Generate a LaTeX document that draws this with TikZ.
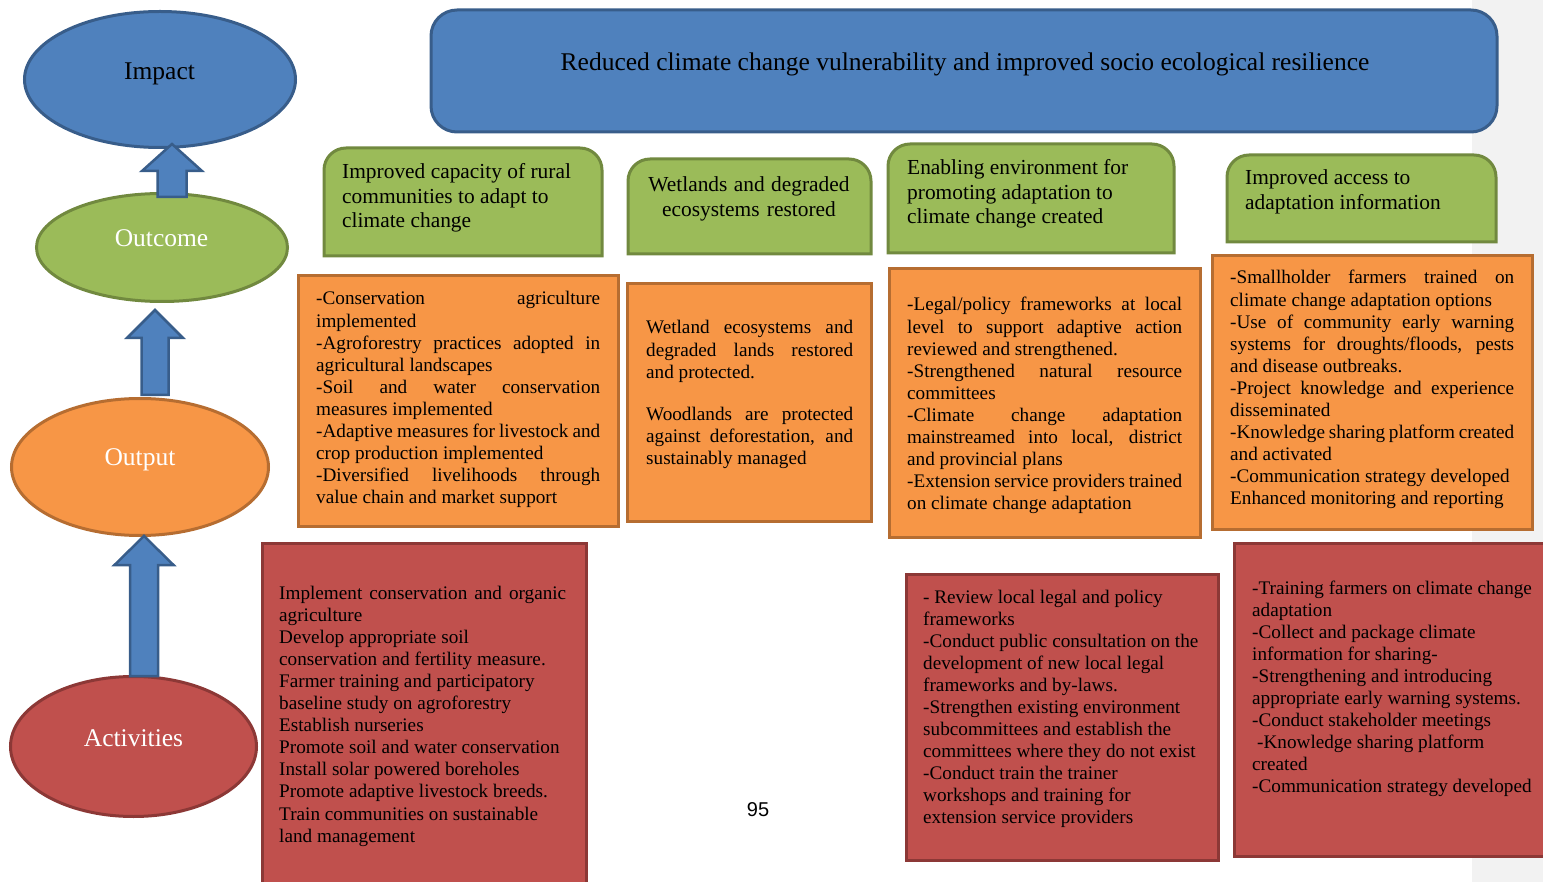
\documentclass[tikz,border=0pt]{standalone}
\usepackage{fontspec}
\setmainfont{Liberation Serif}
\newfontfamily\numfont{Liberation Sans}
\usetikzlibrary{shapes.geometric}
\definecolor{bluef}{HTML}{4F81BD}
\definecolor{bluel}{HTML}{385D8A}
\definecolor{greenf}{HTML}{9BBB59}
\definecolor{greenl}{HTML}{71893F}
\definecolor{orangef}{HTML}{F79646}
\definecolor{orangel}{HTML}{B66D31}
\definecolor{redf}{HTML}{C0504D}
\definecolor{redl}{HTML}{8C3836}
\definecolor{grayf}{HTML}{F2F2F2}
\newcommand\rsp{\spaceskip=0pt\xspaceskip=0pt\relax}
\newcommand\jl[1]{\leavevmode\hbox to\hsize{#1}}
\newcommand\gbox[4]{\draw[boxline, fill=greenf, draw=greenl] (#1,#4) -- (#1,#2+22) arc[start angle=180, end angle=270, radius=22] -- (#3-22,#2) arc[start angle=270, end angle=360, radius=22] -- (#3,#4) -- cycle;}
\newcommand\blockarr[5]{\draw[blockarrow] (#1) -- ++(#2,#3) -- ++(-#2+#4,0) -- ++(0,#5) -- ++(-2*#4,0) -- ++(0,-#5) -- ++(-#2+#4,0) -- cycle;}
\begin{document}
\begin{tikzpicture}[x=1pt,y=-1pt,
  ell/.style={ellipse, draw, line width=3pt, inner sep=0pt},
  boxline/.style={line width=3pt},
  obox/.style={boxline, fill=orangef, draw=orangel},
  rbox/.style={boxline, fill=redf, draw=redl},
  blockarrow/.style={fill=bluef, draw=bluel, line width=2.5pt, line join=miter},
  bodytext/.style={anchor=base west, inner sep=0pt, align=left, font=\fontsize{19.2}{22.1}\selectfont},
  greentext/.style={anchor=base west, inner sep=0pt, align=left, font=\fontsize{21.4}{24.5}\selectfont},
  lbl/.style={anchor=base, inner sep=0pt, font=\fontsize{25.5}{30}\selectfont}
]
\clip (0,0) rectangle (1543,882);
\fill[grayf] (1472,0) rectangle (1543,882);

% banner
\draw[boxline, fill=bluef, draw=bluel, rounded corners=26] (431,10) rectangle (1497,132);

% outcome boxes
\gbox{324}{148}{602}{256}
\gbox{628}{159}{871}{254}
\gbox{888}{144}{1174}{253}
\gbox{1227}{155}{1496}{242}

% output boxes
\draw[obox] (298,276) rectangle (618,526);
\draw[obox] (627,284) rectangle (871,521);
\draw[obox] (889,269) rectangle (1200,537);
\draw[obox] (1212,256) rectangle (1532,529);

% activity boxes
\draw[rbox] (262,543) rectangle (586,900);
\draw[rbox] (906,574) rectangle (1218,860);
\draw[rbox] (1234,543) rectangle (1546,856);

% ellipses
\node[ell, fill=bluef, draw=bluel, minimum width=271, minimum height=136] (impact) at (160,79.5) {};
\node[ell, fill=greenf, draw=greenl, minimum width=251, minimum height=108] (outcome) at (162,247.5) {};
\node[ell, fill=orangef, draw=orangel, minimum width=257, minimum height=137] (output) at (140,467) {};
\node[ell, fill=redf, draw=redl, minimum width=246, minimum height=140] (activities) at (133.5,746.5) {};

% block arrows
\coordinate (a1tip) at (172,144);
\coordinate (a2tip) at (155,310);
\coordinate (a3tip) at (144,536);
\blockarr{a1tip}{30}{27}{14.5}{26}
\blockarr{a2tip}{28}{28}{13.5}{57}
\blockarr{a3tip}{29.5}{29}{14}{111}

% labels
\node[lbl] (impactlbl) at (159.5,80) {Impact};
\node[lbl, text=white] (outcomelbl) at (161.5,247) {Outcome};
\node[lbl, text=white] (outputlbl) at (140,466) {Output};
\node[lbl, text=white] (activitieslbl) at (133.5,746) {Activities};
\node[lbl] (title) at (965,71) {Reduced climate change vulnerability and improved socio ecological resilience};

% green texts
\node[greentext, text width=265] (g1) at (342,179) {\rsp Improved capacity of rural\\communities to adapt to\\climate change};
\node[greentext, anchor=base, align=center, text width=235] (g2) at (749,192) {\rsp Wetlands and degraded\\ecosystems restored};
\node[greentext, text width=265] (g3) at (907,175) {\rsp Enabling environment for\\promoting adaptation to\\climate change created};
\node[greentext, text width=250] (g4) at (1245,185) {\rsp Improved access to\\adaptation information};

% orange texts
\node[bodytext, text width=284] (o1) at (316,305) {\rsp\jl{-Conservation\hfill agriculture}\\implemented\\\jl{-Agroforestry practices adopted in}\\agricultural landscapes\\\jl{-Soil and water conservation}\\measures implemented\\\jl{-Adaptive measures for livestock and}\\crop production implemented\\\jl{-Diversified livelihoods through}\\value chain and market support};
\node[bodytext, text width=207] (o2) at (646,334) {\rsp\jl{Wetland ecosystems and}\\\jl{degraded lands restored}\\and protected.\\[19.8pt]\jl{Woodlands are protected}\\\jl{against deforestation, and}\\sustainably managed};
\node[bodytext, text width=275] (o3) at (907,311) {\rsp\jl{-Legal/policy frameworks at local}\\\jl{level to support adaptive action}\\reviewed and strengthened.\\\jl{-Strengthened natural resource}\\committees\\\jl{-Climate change adaptation}\\\jl{mainstreamed into local, district}\\and provincial plans\\\jl{-Extension service providers trained}\\on climate change adaptation};
\node[bodytext, text width=284] (o4) at (1230,284) {\rsp\jl{-Smallholder farmers trained on}\\climate change adaptation options\\\jl{-Use of community early warning}\\\jl{systems for droughts/floods, pests}\\and disease outbreaks.\\\jl{-Project knowledge and experience}\\disseminated\\\jl{-Knowledge sharing platform created}\\and activated\\-Communication strategy developed\\Enhanced monitoring and reporting};

% red texts
\node[bodytext, text width=287] (r1) at (279,599) {\rsp\jl{Implement conservation and organic}\\agriculture\\Develop appropriate soil\\conservation and fertility measure.\\Farmer training and participatory\\baseline study on agroforestry\\Establish nurseries\\Promote soil and water conservation\\Install solar powered boreholes\\Promote adaptive livestock breeds.\\Train communities on sustainable\\land management};
\node[bodytext, text width=290] (r2) at (923,603) {\rsp - Review local legal and policy\\frameworks\\-Conduct public consultation on the\\development of new local legal\\frameworks and by-laws.\\-Strengthen existing environment\\subcommittees and establish the\\committees where they do not exist\\-Conduct train the trainer\\workshops and training for\\extension service providers};
\node[bodytext, text width=290] (r3) at (1252,594) {\rsp -Training farmers on climate change\\adaptation\\-Collect and package climate\\information for sharing-\\-Strengthening and introducing\\appropriate early warning systems.\\-Conduct stakeholder meetings\\\hspace*{5pt}-Knowledge sharing platform\\created\\-Communication strategy developed};

% page number
\node[anchor=base, inner sep=0pt, font=\numfont\fontsize{20}{24}\selectfont] (pagenum) at (758,816) {95};
\end{tikzpicture}
\end{document}
